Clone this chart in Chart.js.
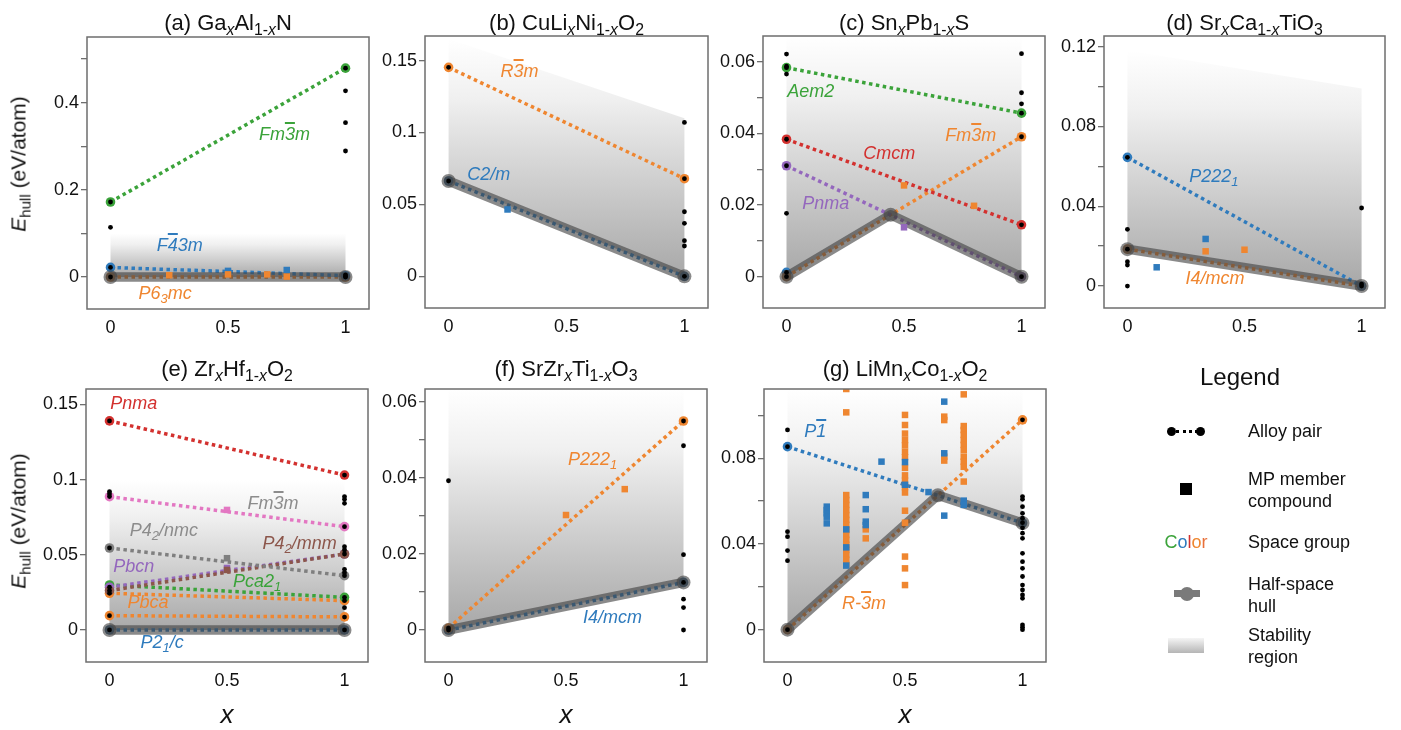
<!DOCTYPE html>
<html><head><meta charset="utf-8">
<script src="https://cdn.jsdelivr.net/npm/chart.js@4.4.1/dist/chart.umd.min.js"></script>
<style>
body{margin:0;width:1401px;height:730px;position:relative;background:#fff;overflow:hidden;font-family:"Liberation Sans",Arial,Helvetica,sans-serif;color:#111}
canvas{position:absolute}
.t{position:absolute;transform:translate(-50%,-50%);white-space:nowrap;line-height:1}
.title{font-size:22px}
.lbl{font-size:18px;font-style:italic}
.sb{font-size:72%;position:relative;top:0.3em}
.ob{text-decoration:overline;text-decoration-thickness:1.5px}
.ytitle{position:absolute;font-size:21px;white-space:nowrap;line-height:1;transform:translate(-50%,-50%) rotate(-90deg)}
.xtitle{font-size:26px;font-style:italic}
.legtxt{position:absolute;font-size:18px;line-height:22px;white-space:nowrap}
.abs{position:absolute}
</style></head><body>
<script>
const FONT = '"Liberation Sans", Arial, Helvetica, sans-serif';
Chart.defaults.font.family = FONT;

// ---------- shared ----------
const X_TICKS = [0, 0.5, 1];
const X_TICK_LABELS = ['0', '0.5', '1'];
const PAIR_X = [0, 1];

// ---------- (a) GaxAl1-xN ----------
const A_Y_TICKS = [0, 0.1, 0.2, 0.3, 0.4, 0.5];
const A_Y_LABELS = ['0', '', '0.2', '', '0.4', ''];
const A_FM3M = [0.172, 0.479];
const A_F43M = [0.022, 0.003];
const A_P63MC = [0, 0];
const A_HULL_X = [0, 1];
const A_HULL_Y = [0, 0];
const A_REGION_TOP = [0.1, 0.1];
const A_DOTS_AT0 = [0.172, 0.114, 0.022, 0];
const A_DOTS_AT1 = [0.479, 0.427, 0.354, 0.289, 0.005, 0.001, 0];
const A_MP_ORANGE = [[0.25, 0.004], [0.5, 0.006], [0.667, 0.006], [0.75, 0.001]];
const A_MP_BLUE = [[0.5, 0.014], [0.75, 0.016]];

// ---------- (b) CuLixNi1-xO2 ----------
const B_Y_TICKS = [0, 0.05, 0.1, 0.15];
const B_Y_LABELS = ['0', '0.05', '0.1', '0.15'];
const B_R3M = [0.1453, 0.0679];
const B_C2M = [0.0663, 0];
const B_HULL_X = [0, 1];
const B_HULL_Y = [0.0663, 0];
const B_REGION_TOP = [0.165, 0.11];
const B_DOTS_AT0 = [0.1453, 0.0663];
const B_DOTS_AT1 = [0.107, 0.0679, 0.0449, 0.0369, 0.0248, 0.0211, 0];
const B_MP_BLUE = [[0.25, 0.0465]];

// ---------- (c) SnxPb1-xS ----------
const C_Y_TICKS = [0, 0.01, 0.02, 0.03, 0.04, 0.05, 0.06];
const C_Y_LABELS = ['0', '', '0.02', '', '0.04', '', '0.06'];
const C_AEM2 = [0.0584, 0.0457];
const C_CMCM = [0.0384, 0.0145];
const C_PNMA = [0.031, 0];
const C_FM3M = [0, 0.0391];
const C_BLUE0 = [0.0012];
const C_HULL_X = [0, 0.443, 1];
const C_HULL_Y = [0, 0.0173, 0];
const C_REGION_TOP = [0.0672, 0.0672];
const C_DOTS_AT0 = [0.0622, 0.0588, 0.0584, 0.0566, 0.0384, 0.031, 0.0177, 0.0012, 0];
const C_DOTS_AT1 = [0.0623, 0.0514, 0.0483, 0.0457, 0.0391, 0.0145, 0];
const C_MP_ORANGE = [[0.5, 0.0255], [0.798, 0.0198]];
const C_MP_PURPLE = [[0.5, 0.0138]];

// ---------- (d) SrxCa1-xTiO3 ----------
const D_Y_TICKS = [0, 0.02, 0.04, 0.06, 0.08, 0.1, 0.12];
const D_Y_LABELS = ['0', '', '0.04', '', '0.08', '', '0.12'];
const D_P2221 = [0.0645, 0];
const D_I4MCM = [0.0185, 0];
const D_HULL_X = [0, 1];
const D_HULL_Y = [0.0185, 0];
const D_REGION_TOP = [0.118, 0.099];
const D_DOTS_AT0 = [0.0645, 0.0284, 0.0185, 0.0122, 0.0105, 0];
const D_DOTS_AT1 = [0.0391, 0.001, 0];
const D_MP_BLUE = [[0.125, 0.0094], [0.334, 0.0236]];
const D_MP_ORANGE = [[0.334, 0.0174], [0.5, 0.0182]];

// ---------- (e) ZrxHf1-xO2 ----------
const E_Y_TICKS = [0, 0.05, 0.1, 0.15];
const E_Y_LABELS = ['0', '0.05', '0.1', '0.15'];
const E_PNMA = [0.139, 0.103];
const E_FM3M = [0.0886, 0.0687];
const E_P42NMC = [0.0545, 0.0361];
const E_P42MNM = [0.0262, 0.0505];
const E_PBCN = [0.0284, 0.0505];
const E_PCA21 = [0.0299, 0.0217];
const E_PBCA = [0.0244, 0.0195];
const E_ORANGE_LOW = [0.0095, 0.0087];
const E_P21C = [0, 0];
const E_HULL_X = [0, 1];
const E_HULL_Y = [0, 0];
const E_REGION_TOP = [0.1, 0.1];
const E_DOTS_AT0 = [0.139, 0.092, 0.0904, 0.0887, 0.0545, 0.0284, 0.0262, 0.0244, 0.0095, 0];
const E_DOTS_AT1 = [0.103, 0.0887, 0.0869, 0.0842, 0.0687, 0.0554, 0.0532, 0.0505, 0.0403, 0.0381, 0.0361, 0.0217, 0.0195, 0.0148, 0.0086, 0];
const E_MP_PINK = [[0.5, 0.0798]];
const E_MP_GRAY = [[0.5, 0.0477]];
const E_MP_BROWN = [[0.5, 0.0399]];
const E_MP_PURPLE = [[0.5, 0.0412]];

// ---------- (f) SrZrxTi1-xO3 ----------
const F_Y_TICKS = [0, 0.01, 0.02, 0.03, 0.04, 0.05, 0.06];
const F_Y_LABELS = ['0', '', '0.02', '', '0.04', '', '0.06'];
const F_P2221 = [0.0005, 0.0549];
const F_I4MCM = [0, 0.0125];
const F_HULL_X = [0, 1];
const F_HULL_Y = [0, 0.0125];
const F_REGION_TOP = [0.0633, 0.0633];
const F_DOTS_AT0 = [0.0392, 0.0005, 0];
const F_DOTS_AT1 = [0.0549, 0.0484, 0.0198, 0.0125, 0.0081, 0.0059, 0];
const F_MP_ORANGE = [[0.5, 0.0302], [0.75, 0.037]];

// ---------- (g) LiMnxCo1-xO2 ----------
const G_Y_TICKS = [0, 0.02, 0.04, 0.06, 0.08, 0.1];
const G_Y_LABELS = ['0', '', '0.04', '', '0.08', ''];
const G_P1 = [0.0854, 0.0498];
const G_R3M = [0, 0.0979];
const G_HULL_X = [0, 0.64, 1];
const G_HULL_Y = [0, 0.0627, 0.0498];
const G_REGION_TOP = [0.1123, 0.1123];
const G_DOTS_AT0 = [0.0932, 0.0854, 0.0457, 0.0434, 0.0369, 0.0322, 0];
const G_DOTS_AT1 = [0.0979, 0.0621, 0.0608, 0.0574, 0.0543, 0.052, 0.0499, 0.0475, 0.045, 0.0426, 0.0356, 0.0317, 0.0286, 0.0248, 0.0208, 0.0185, 0.0162, 0.0146, 0.0022, 0.0011, 0];
const G_MP_ORANGE = [
  [0.25, 0.1123], [0.25, 0.1014], [0.25, 0.0628], [0.25, 0.0605], [0.25, 0.0582], [0.25, 0.0558], [0.25, 0.0535],
  [0.25, 0.0512], [0.25, 0.0489], [0.25, 0.0465], [0.25, 0.0442], [0.25, 0.0419], [0.25, 0.0396], [0.25, 0.0372],
  [0.25, 0.0349], [0.25, 0.0326], [0.25, 0.0302],
  [0.333, 0.0468], [0.333, 0.0426],
  [0.5, 0.1002], [0.5, 0.0955], [0.5, 0.0915], [0.5, 0.0885], [0.5, 0.086], [0.5, 0.083], [0.5, 0.0805],
  [0.5, 0.0755], [0.5, 0.072], [0.5, 0.0695], [0.5, 0.0665], [0.5, 0.064], [0.5, 0.0555], [0.5, 0.0499],
  [0.5, 0.0341], [0.5, 0.0286], [0.5, 0.0208],
  [0.667, 0.0994], [0.667, 0.0978], [0.667, 0.0807], [0.667, 0.0789],
  [0.75, 0.1098], [0.75, 0.095], [0.75, 0.0932], [0.75, 0.0909], [0.75, 0.0885], [0.75, 0.0862], [0.75, 0.0838],
  [0.75, 0.0807], [0.75, 0.0784], [0.75, 0.076], [0.75, 0.0691]
];
const G_MP_BLUE = [
  [0.167, 0.0574], [0.167, 0.0558], [0.167, 0.0543], [0.167, 0.0527], [0.167, 0.0496],
  [0.25, 0.0468], [0.25, 0.0384], [0.25, 0.0299],
  [0.333, 0.0628], [0.333, 0.0562], [0.333, 0.0504], [0.333, 0.0488],
  [0.4, 0.0784], [0.5, 0.0782], [0.5, 0.0676], [0.6, 0.0642],
  [0.667, 0.1064], [0.667, 0.0823], [0.667, 0.0532], [0.75, 0.0602], [0.75, 0.0582]
];

// ---------- styles ----------
const COL = {blue:'#2f7bbd', orange:'#ef8630', green:'#3ba33a', red:'#d3312f', purple:'#9467bd', brown:'#8c564b', pink:'#e377c2', gray:'#7f7f7f', lgray:'#8c8c8c'};
const HULL_COL = 'rgba(66,66,66,0.62)';
const PAD = {l:70, t:22, r:14, b:40};

function pts(xs, ys){ return xs.map((x, i) => ({x: x, y: ys[i]})); }
function pair(ys, color){
  return {data: pts(PAIR_X, ys), showLine: true, borderColor: color, borderWidth: 3.5, borderDash: [3.5, 3.5],
          pointRadius: 4.8, pointBackgroundColor: color, pointBorderWidth: 0, order: 8};
}
function single(x, ys, color){
  return {data: ys.map(y => ({x: x, y: y})), showLine: false, pointRadius: 4.8, pointBackgroundColor: color, pointBorderWidth: 0, order: 8};
}
function hull(xs, ys){
  return {data: pts(xs, ys), showLine: true, borderColor: HULL_COL, borderWidth: 9.5, borderCapStyle: 'round', borderJoinStyle: 'round',
          pointRadius: 7, pointBackgroundColor: HULL_COL, pointBorderWidth: 0, order: 6};
}
function squares(list, color, order){
  return {data: list.map(p => ({x: p[0], y: p[1]})), showLine: false, pointStyle: 'rect', pointRadius: 4.6,
          pointBackgroundColor: color, pointBorderWidth: 0, order: order || 4};
}
function dots(ys0, ys1){
  const d = ys0.map(y => ({x: 0, y: y})).concat(ys1.map(y => ({x: 1, y: y})));
  return {data: d, showLine: false, pointRadius: 2.4, pointBackgroundColor: '#000', pointBorderWidth: 0, order: 2};
}
function region(top, hx, hy){
  const data = [{x: 0, y: top[0]}, {x: 1, y: top[1]}].concat(pts(hx, hy).reverse());
  const topV = Math.max(top[0], top[1]);
  const botV = Math.min.apply(null, hy);
  return {data: data, showLine: true, borderColor: 'rgba(0,0,0,0)', borderWidth: 0, pointRadius: 0, fill: 'shape', order: 10,
          backgroundColor: (c) => {
            const ch = c.chart; const ys = ch.scales && ch.scales.y;
            if (!ch.chartArea || !ys) return 'rgba(220,220,220,0.6)';
            const g = ch.ctx.createLinearGradient(0, ys.getPixelForValue(topV), 0, ys.getPixelForValue(botV));
            g.addColorStop(0, 'rgb(255,255,255)');
            g.addColorStop(0.25, 'rgb(240,240,240)');
            g.addColorStop(1, 'rgb(168,168,168)');
            return g;
          }};
}

const frame = {id: 'frame', afterDatasetsDraw(chart){
  const c = chart.ctx, a = chart.chartArea;
  c.save(); c.strokeStyle = '#6e6e6e'; c.lineWidth = 1.5;
  c.strokeRect(a.left, a.top, a.right - a.left, a.bottom - a.top); c.restore();
}};

function sb(t){ return '<span class="sb">' + t + '</span>'; }
function ob(t){ return '<span class="ob">' + t + '</span>'; }
function addText(cls, html, x, y, color){
  const d = document.createElement('div'); d.className = 't ' + cls; d.innerHTML = html;
  d.style.left = x + 'px'; d.style.top = y + 'px'; if (color) d.style.color = color;
  document.body.appendChild(d); return d;
}

function makePanel(P){
  const l = P.box[0], t = P.box[1], r = P.box[2], b = P.box[3];
  const cv = document.createElement('canvas');
  const W = r - l + PAD.l + PAD.r, H = b - t + PAD.t + PAD.b;
  const cl = l - PAD.l, ct = t - PAD.t;
  cv.width = W; cv.height = H;
  cv.style.left = cl + 'px'; cv.style.top = ct + 'px'; cv.style.width = W + 'px'; cv.style.height = H + 'px';
  document.body.appendChild(cv);
  const chart = new Chart(cv, {
    type: 'scatter',
    data: {datasets: P.datasets},
    options: {
      responsive: false, animation: false, devicePixelRatio: 1, events: [],
      layout: {padding: {left: 0, top: PAD.t, right: PAD.r, bottom: 0}},
      plugins: {legend: {display: false}, tooltip: {enabled: false}},
      scales: {
        x: {type: 'linear', min: -0.1, max: 1.1,
            afterBuildTicks: (s) => { s.ticks = X_TICKS.map(v => ({value: v})); },
            afterFit: (s) => { s.height = PAD.b; },
            grid: {drawOnChartArea: false, drawTicks: false}, border: {display: false},
            ticks: {padding: 8, color: '#111', font: {size: 18}, maxRotation: 0, autoSkip: false,
                    callback: (v, i) => X_TICK_LABELS[i]}},
        y: {type: 'linear', min: P.y[0], max: P.y[1],
            afterBuildTicks: (s) => { s.ticks = P.yt.map(v => ({value: v})); },
            afterFit: (s) => { s.width = PAD.l; },
            grid: {drawOnChartArea: false, drawTicks: true, tickLength: 6, color: '#6e6e6e', lineWidth: 1.3},
            border: {display: false},
            ticks: {padding: 2, color: '#111', font: {size: 18}, autoSkip: false,
                    callback: (v, i) => P.yl[i]}}
      }
    },
    plugins: [frame]
  });
  const xs = chart.scales.x, ys = chart.scales.y;
  addText('title', P.title, (l + r) / 2, P.titleY);
  (P.labels || []).forEach(L => {
    addText('lbl', L.t, xs.getPixelForValue(L.x) + cl, ys.getPixelForValue(L.y) + ct, L.c);
  });
  if (P.ytitle) {
    const d = document.createElement('div'); d.className = 'ytitle';
    d.innerHTML = '<i>E</i>' + sb('hull') + ' (eV/atom)';
    d.style.left = '18px'; d.style.top = P.ytitle + 'px'; document.body.appendChild(d);
  }
  if (P.xtitle) addText('xtitle', 'x', (l + r) / 2, 714);
  return chart;
}

const PANELS = [
  {box: [87, 37, 369, 309], y: [-0.0734, 0.5505], yt: A_Y_TICKS, yl: A_Y_LABELS, titleY: 23, ytitle: 164,
   title: '(a) Ga' + sb('<i>x</i>') + 'Al' + sb('1-<i>x</i>') + 'N',
   datasets: [region(A_REGION_TOP, A_HULL_X, A_HULL_Y), pair(A_FM3M, COL.green), pair(A_F43M, COL.blue), pair(A_P63MC, COL.orange),
              hull(A_HULL_X, A_HULL_Y), squares(A_MP_ORANGE, COL.orange), squares(A_MP_BLUE, COL.blue), dots(A_DOTS_AT0, A_DOTS_AT1)],
   labels: [{t: 'Fm' + ob('3') + 'm', c: COL.green, x: 0.74, y: 0.328},
            {t: 'F' + ob('4') + '3m', c: COL.blue, x: 0.295, y: 0.073},
            {t: 'P6' + sb('3') + 'mc', c: COL.orange, x: 0.232, y: -0.036}]},
  {box: [425, 36, 708, 308], y: [-0.022, 0.1671], yt: B_Y_TICKS, yl: B_Y_LABELS, titleY: 23,
   title: '(b) CuLi' + sb('<i>x</i>') + 'Ni' + sb('1-<i>x</i>') + 'O' + sb('2'),
   datasets: [region(B_REGION_TOP, B_HULL_X, B_HULL_Y), pair(B_R3M, COL.orange), pair(B_C2M, COL.blue),
              hull(B_HULL_X, B_HULL_Y), squares(B_MP_BLUE, COL.blue), dots(B_DOTS_AT0, B_DOTS_AT1)],
   labels: [{t: 'R' + ob('3') + 'm', c: COL.orange, x: 0.301, y: 0.143},
            {t: 'C2/m', c: COL.blue, x: 0.17, y: 0.0711}]},
  {box: [763, 36, 1045, 308], y: [-0.00875, 0.06725], yt: C_Y_TICKS, yl: C_Y_LABELS, titleY: 23,
   title: '(c) Sn' + sb('<i>x</i>') + 'Pb' + sb('1-<i>x</i>') + 'S',
   datasets: [region(C_REGION_TOP, C_HULL_X, C_HULL_Y), pair(C_AEM2, COL.green), pair(C_CMCM, COL.red), pair(C_PNMA, COL.purple),
              pair(C_FM3M, COL.orange), single(0, C_BLUE0, COL.blue), hull(C_HULL_X, C_HULL_Y),
              squares(C_MP_ORANGE, COL.orange), squares(C_MP_PURPLE, COL.purple), dots(C_DOTS_AT0, C_DOTS_AT1)],
   labels: [{t: 'Aem2', c: COL.green, x: 0.103, y: 0.052},
            {t: 'Fm' + ob('3') + 'm', c: COL.orange, x: 0.784, y: 0.0396},
            {t: 'Cmcm', c: COL.red, x: 0.437, y: 0.0345},
            {t: 'Pnma', c: COL.purple, x: 0.167, y: 0.0205}]},
  {box: [1104, 36, 1385, 308], y: [-0.011, 0.1253], yt: D_Y_TICKS, yl: D_Y_LABELS, titleY: 23,
   title: '(d) Sr' + sb('<i>x</i>') + 'Ca' + sb('1-<i>x</i>') + 'TiO' + sb('3'),
   datasets: [region(D_REGION_TOP, D_HULL_X, D_HULL_Y), pair(D_P2221, COL.blue), pair(D_I4MCM, COL.orange),
              hull(D_HULL_X, D_HULL_Y), squares(D_MP_BLUE, COL.blue), squares(D_MP_ORANGE, COL.orange), dots(D_DOTS_AT0, D_DOTS_AT1)],
   labels: [{t: 'P222' + sb('1'), c: COL.blue, x: 0.369, y: 0.0553},
            {t: 'I4/mcm', c: COL.orange, x: 0.374, y: 0.0042}]},
  {box: [86, 389, 368, 662], y: [-0.0213, 0.1602], yt: E_Y_TICKS, yl: E_Y_LABELS, titleY: 369, ytitle: 521, xtitle: true,
   title: '(e) Zr' + sb('<i>x</i>') + 'Hf' + sb('1-<i>x</i>') + 'O' + sb('2'),
   datasets: [region(E_REGION_TOP, E_HULL_X, E_HULL_Y), pair(E_PNMA, COL.red), pair(E_FM3M, COL.pink), pair(E_P42NMC, COL.gray),
              pair(E_P42MNM, COL.brown), pair(E_PBCN, COL.purple), pair(E_PCA21, COL.green), pair(E_PBCA, COL.orange),
              pair(E_ORANGE_LOW, COL.orange), pair(E_P21C, COL.blue), hull(E_HULL_X, E_HULL_Y),
              squares(E_MP_PINK, COL.pink), squares(E_MP_GRAY, COL.gray), squares(E_MP_BROWN, COL.brown), squares(E_MP_PURPLE, COL.purple),
              dots(E_DOTS_AT0, E_DOTS_AT1)],
   labels: [{t: 'Pnma', c: COL.red, x: 0.103, y: 0.151},
            {t: 'Fm' + ob('3') + 'm', c: COL.lgray, x: 0.696, y: 0.0846},
            {t: 'P4' + sb('2') + '/nmc', c: COL.lgray, x: 0.231, y: 0.0665},
            {t: 'P4' + sb('2') + '/mnm', c: COL.brown, x: 0.809, y: 0.058},
            {t: 'Pbcn', c: COL.purple, x: 0.103, y: 0.0426},
            {t: 'Pca2' + sb('1'), c: COL.green, x: 0.628, y: 0.0328},
            {t: 'Pbca', c: COL.orange, x: 0.164, y: 0.0188},
            {t: 'P2' + sb('1') + '/c', c: COL.blue, x: 0.224, y: -0.0078}]},
  {box: [425, 389, 707, 662], y: [-0.0084, 0.0633], yt: F_Y_TICKS, yl: F_Y_LABELS, titleY: 369, xtitle: true,
   title: '(f) SrZr' + sb('<i>x</i>') + 'Ti' + sb('1-<i>x</i>') + 'O' + sb('3'),
   datasets: [region(F_REGION_TOP, F_HULL_X, F_HULL_Y), pair(F_P2221, COL.orange), pair(F_I4MCM, COL.blue),
              hull(F_HULL_X, F_HULL_Y), squares(F_MP_ORANGE, COL.orange), dots(F_DOTS_AT0, F_DOTS_AT1)],
   labels: [{t: 'P222' + sb('1'), c: COL.orange, x: 0.613, y: 0.0449},
            {t: 'I4/mcm', c: COL.blue, x: 0.698, y: 0.0035}]},
  {box: [764, 389, 1046, 662], y: [-0.0151, 0.1123], yt: G_Y_TICKS, yl: G_Y_LABELS, titleY: 369, xtitle: true,
   title: '(g) LiMn' + sb('<i>x</i>') + 'Co' + sb('1-<i>x</i>') + 'O' + sb('2'),
   datasets: [region(G_REGION_TOP, G_HULL_X, G_HULL_Y), pair(G_P1, COL.blue), pair(G_R3M, COL.orange),
              hull(G_HULL_X, G_HULL_Y), squares(G_MP_ORANGE, COL.orange, 4), squares(G_MP_BLUE, COL.blue, 3),
              dots(G_DOTS_AT0, G_DOTS_AT1)],
   labels: [{t: 'P' + ob('1'), c: COL.blue, x: 0.118, y: 0.0929},
            {t: 'R-' + ob('3') + 'm', c: COL.orange, x: 0.326, y: 0.0126}]}
];
PANELS.forEach(makePanel);

// ---------- legend ----------
function el(style, html, cls){
  const d = document.createElement('div'); d.className = cls || 'abs'; d.setAttribute('style', style);
  if (html) d.innerHTML = html; document.body.appendChild(d); return d;
}
addText('title', 'Legend', 1240, 377).style.fontSize = '24px';
// alloy pair
el('left:1176px;top:430px;width:22px;height:0;border-top:3px dotted #000');
el('left:1167px;top:427px;width:9px;height:9px;border-radius:50%;background:#000');
el('left:1196px;top:427px;width:9px;height:9px;border-radius:50%;background:#000');
el('left:1248px;top:420px', 'Alloy pair', 'legtxt');
// MP member
el('left:1180px;top:483px;width:12px;height:12px;background:#000');
el('left:1248px;top:468px', 'MP member<br>compound', 'legtxt');
// color
addText('', '<span style="color:#3ba33a">C</span><span style="color:#2f7bbd">o</span><span style="color:#d3312f">l</span><span style="color:#ef8630">o</span><span style="color:#e8703a">r</span>', 1186, 542).style.fontSize = '18px';
el('left:1248px;top:531px', 'Space group', 'legtxt');
// hull
el('left:1174px;top:590px;width:26px;height:7px;background:#7a7a7a');
el('left:1180px;top:587px;width:14px;height:14px;border-radius:50%;background:#7a7a7a');
el('left:1248px;top:573px', 'Half-space<br>hull', 'legtxt');
// stability
el('left:1168px;top:638px;width:36px;height:15px;background:linear-gradient(#f5f5f5,#b5b5b5)');
el('left:1248px;top:624px', 'Stability<br>region', 'legtxt');
</script>
</body></html>
